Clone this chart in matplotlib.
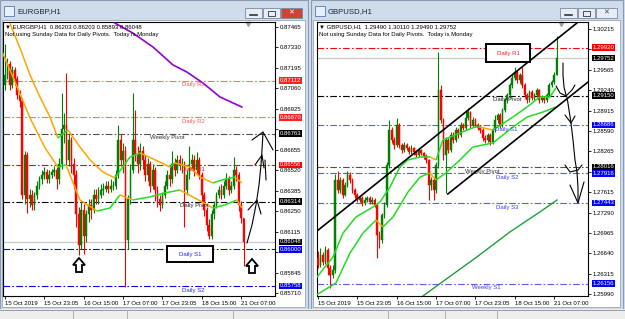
import matplotlib
matplotlib.use('Agg')
import matplotlib.pyplot as plt
from matplotlib.patches import Rectangle, Polygon
from matplotlib.collections import LineCollection
import numpy as np

plt.rcParams['font.family'] = ['Liberation Sans', 'DejaVu Sans']

# ---------------- EURGBP,H1 ----------------
eg_abertura0 = 0.8708
eg_fecho = [0.8715,0.8722,0.8708,0.8718,0.8712,0.8702,0.8698,0.8636,0.8662,0.8633,
	0.8636,0.8629,0.8636,0.8642,0.8646,0.8649,0.8651,0.8646,0.8649,0.8651,
	0.8652,0.8646,0.8656,0.8679,0.8682,0.8659,0.8672,0.8656,0.8649,0.8623,
	0.8603,0.8626,0.8609,0.8623,0.8629,0.8626,0.8636,0.8633,0.8636,0.8639,
	0.8640,0.8642,0.8640,0.8642,0.8642,0.8649,0.8672,0.8659,0.8665,0.8606,
	0.8633,0.8652,0.8672,0.8662,0.8656,0.8665,0.8659,0.8649,0.8656,0.8642,
	0.8652,0.8639,0.8633,0.8629,0.8636,0.8642,0.8649,0.8646,0.8656,0.8652,
	0.8659,0.8656,0.8656,0.8639,0.8649,0.8656,0.8659,0.8652,0.8659,0.8649,
	0.8636,0.8626,0.8616,0.8609,0.8623,0.8629,0.8636,0.8639,0.8636,0.8642,
	0.8646,0.8639,0.8642,0.8652,0.8649,0.8629,0.86203,0.86048]
eg_max = [0.8735,0.8726,0.8724,0.8721,0.8720,0.8714,0.8705,0.8700,0.8665,0.8664,
	0.8640,0.8639,0.8638,0.8645,0.8648,0.8652,0.8654,0.8653,0.8652,0.8653,
	0.8655,0.8654,0.8660,0.8703,0.8690,0.8716,0.8676,0.8674,0.8660,0.8652,
	0.8628,0.8632,0.8630,0.8626,0.8633,0.8633,0.8640,0.8640,0.8641,0.8643,
	0.8644,0.8645,0.8645,0.8646,0.8645,0.8652,0.8682,0.8676,0.8670,0.8668,
	0.8636,0.8656,0.8703,0.8692,0.8668,0.8670,0.8668,0.8662,0.8660,0.8658,
	0.8656,0.8654,0.8642,0.8636,0.8638,0.8645,0.8652,0.8654,0.8665,0.8660,
	0.8662,0.8662,0.8660,0.8658,0.8652,0.8668,0.8663,0.8662,0.8664,0.8661,
	0.8651,0.8638,0.8628,0.8620,0.8626,0.8632,0.8638,0.8642,0.8643,0.8645,
	0.8650,0.8648,0.8645,0.8661,0.8655,0.8651,0.8632,0.86203]
eg_min = [0.8705,0.8712,0.8705,0.8706,0.8708,0.8699,0.8694,0.8633,0.8630,0.8624,
	0.8628,0.8626,0.8626,0.8633,0.8640,0.8643,0.8646,0.8644,0.8644,0.8647,
	0.8648,0.8640,0.8643,0.8653,0.8670,0.8655,0.8655,0.8650,0.8640,0.8615,
	0.8596,0.8600,0.8597,0.8605,0.8618,0.8620,0.8624,0.8630,0.8630,0.8634,
	0.8636,0.8638,0.8637,0.8638,0.8639,0.8640,0.8647,0.8655,0.8650,0.8575,
	0.8600,0.8630,0.8650,0.8658,0.8650,0.8652,0.8653,0.8645,0.8645,0.8638,
	0.8640,0.8632,0.8628,0.8625,0.8627,0.8634,0.8640,0.8642,0.8644,0.8648,
	0.8650,0.8652,0.8650,0.8615,0.8636,0.8646,0.8652,0.8648,0.8650,0.8646,
	0.8632,0.8622,0.8612,0.8607,0.8607,0.8620,0.8627,0.8634,0.8633,0.8634,
	0.8640,0.8636,0.8637,0.8640,0.8645,0.8625,0.8617,0.85893]

# medias moveis (barra, preco)
eg_mm1_idx = [2.0,6.1,10.2,14.2,18.3,21.5,25.6,30.5,34.6,39.8,44.7,50.8,54.9,63.0,67.1,69.1,75.2,79.3,84.6,88.2,93.5,96.3]
eg_mm1_val = [0.87491,0.87327,0.87149,0.87004,0.86872,0.86734,0.86786,0.86674,0.86589,0.86509,0.86470,
	0.86608,0.86635,0.86575,0.86542,0.86569,0.86542,0.86476,0.86437,0.86457,0.86476,0.86437]
eg_mm2_idx = [-2.0,4.1,10.2,16.3,21.5,24.8,30.5,37.4,42.7,46.7,52.0,58.9,65.0,71.1,76.4,84.6,89.4,94.3,96.3]
eg_mm2_val = [0.87333,0.87103,0.86865,0.86668,0.86542,0.86556,0.86325,0.86252,0.86272,0.86358,
	0.86325,0.86345,0.86371,0.86391,0.86345,0.86272,0.86292,0.86325,0.86272]
eg_roxa_idx = [44.7,52.0,60.2,68.3,74.0,80.5,87.4,96.3]
eg_roxa_val = [0.87491,0.87425,0.87333,0.87215,0.87168,0.87096,0.87004,0.86938]

eg_nivel_nome = ['Daily R3','Daily R2','Weekly Pivot','Daily R1','Daily Pivot','Daily S1','Daily S2']
eg_nivel_valor = [0.87112,0.86870,0.86763,0.86556,0.86314,0.86000,0.85758]
eg_atual = 0.86048
eg_ticks = [0.87465,0.87330,0.87195,0.87060,0.86925,0.86790,0.86655,0.86520,0.86385,
	0.86250,0.86115,0.85980,0.85845,0.85710]
eg_cabecalho = '\u25bc EURGBP,H1  0.86203 0.86203 0.85893 0.86048'

# ---------------- GBPUSD,H1 ----------------
gu_abertura0 = 1.2657
gu_fecho = [1.26453,1.26613,1.26501,1.26692,1.26405,1.26294,1.26374,1.27808,1.27649,1.27808,
	1.27569,1.27728,1.27888,1.27808,1.27649,1.27569,1.27489,1.27521,1.27441,1.27489,
	1.27521,1.27457,1.27489,1.27410,1.26931,1.26852,1.27250,1.27410,1.28047,1.28605,
	1.28446,1.28366,1.28685,1.28366,1.28286,1.28366,1.28318,1.28254,1.28318,1.28254,
	1.28207,1.28286,1.28238,1.28191,1.28127,1.27728,1.27808,1.27649,1.28047,1.29243,
	1.28765,1.28207,1.28446,1.28286,1.28525,1.28446,1.28605,1.28525,1.28685,1.28637,
	1.28796,1.28892,1.28685,1.28765,1.28685,1.28637,1.28605,1.28478,1.28446,1.28525,
	1.28414,1.28605,1.28765,1.28844,1.28685,1.28924,1.29083,1.29163,1.29322,1.29434,
	1.29530,1.29402,1.29482,1.29322,1.29163,1.29083,1.29211,1.29115,1.29163,1.29243,
	1.29083,1.29115,1.29083,1.29163,1.29322,1.29370,1.29490,1.29752]
gu_max = [1.2667,1.2672,1.2666,1.2675,1.2672,1.2645,1.2645,1.2790,1.2795,1.2786,
	1.2784,1.2778,1.2795,1.2793,1.2784,1.2768,1.2760,1.2756,1.2755,1.2753,
	1.2756,1.2755,1.2753,1.2752,1.2744,1.2700,1.2728,1.2745,1.2810,1.2877,
	1.2866,1.2850,1.2880,1.2872,1.2840,1.2841,1.2840,1.2835,1.2836,1.2834,
	1.2829,1.2832,1.2831,1.2826,1.2822,1.2815,1.2786,1.2784,1.2810,1.2985,
	1.2932,1.2880,1.2850,1.2848,1.2857,1.2858,1.2865,1.2864,1.2873,1.2872,
	1.2892,1.2896,1.2891,1.2881,1.2880,1.2872,1.2868,1.2864,1.2852,1.2856,
	1.2855,1.2864,1.2884,1.2888,1.2887,1.2896,1.2912,1.2920,1.2936,1.2950,
	1.2961,1.2956,1.2952,1.2961,1.2935,1.2919,1.2924,1.2924,1.2920,1.2928,
	1.2926,1.2916,1.2915,1.2920,1.2936,1.2941,1.2953,1.30110]
gu_min = [1.2640,1.2642,1.2645,1.2647,1.2630,1.2609,1.2625,1.2633,1.2760,1.2760,
	1.2752,1.2755,1.2770,1.2776,1.2760,1.2752,1.2745,1.2746,1.2740,1.2741,
	1.2746,1.2742,1.2743,1.2737,1.2657,1.2672,1.2680,1.2720,1.2738,1.2800,
	1.2840,1.2830,1.2833,1.2832,1.2824,1.2826,1.2828,1.2822,1.2822,1.2821,
	1.2817,1.2818,1.2820,1.2815,1.2808,1.2749,1.2765,1.2749,1.2760,1.2800,
	1.2872,1.2813,1.2760,1.2824,1.2826,1.2840,1.2842,1.2848,1.2850,1.2860,
	1.2861,1.2876,1.2864,1.2866,1.2865,1.2860,1.2856,1.2843,1.2840,1.2842,
	1.2836,1.2838,1.2858,1.2872,1.2864,1.2866,1.2889,1.2904,1.2912,1.2928,
	1.2940,1.2935,1.2936,1.2928,1.2912,1.2903,1.2905,1.2908,1.2909,1.2913,
	1.2903,1.2905,1.2904,1.2905,1.2913,1.2929,1.2934,1.29490]

gu_mm1_idx = [-0.4,6.1,10.2,15.4,22.4,25.2,29.3,33.3,36.6,41.5,45.5,48.0,50.8,57.7,63.8,65.9,71.1,79.3,85.0,90.2,94.3,96.7]
gu_mm1_val = [1.26262,1.26581,1.26963,1.27218,1.27378,1.27457,1.27697,1.28015,1.28127,1.28175,1.28175,
	1.28127,1.28446,1.28557,1.28653,1.28653,1.28605,1.28812,1.28972,1.29131,1.29131,1.29275]
gu_mm2_idx = [-2.0,7.3,13.0,18.3,23.6,26.4,30.5,36.6,41.5,45.5,48.0,52.0,57.7,63.0,71.1,79.3,85.0,91.5,96.7]
gu_mm2_val = [1.25943,1.26166,1.26644,1.26963,1.27170,1.27059,1.27218,1.27617,1.27856,1.27920,
	1.27808,1.27920,1.28127,1.28334,1.28398,1.28653,1.28812,1.28892,1.28972]
gu_lenta_idx = [42.7,48.8,64.6,78.0,90.2,97.2]
gu_lenta_val = [1.25959,1.26134,1.26581,1.26979,1.27298,1.27489]
gu_canal_sup_idx = [-0.4,105.3]
gu_canal_sup_val = [1.26995,1.30311]
gu_canal_inf_idx = [52.8,109.8]
gu_canal_inf_val = [1.27585,1.29370]

gu_nivel_nome = ['Daily R2','Daily R1','Daily Pivot','Daily S1','Weekly Pivot','Daily S2','Daily S3','Weekly S1']
gu_nivel_valor = [1.30390,1.29920,1.29150,1.28686,1.28016,1.27916,1.27443,1.26156]
gu_atual = 1.29752
gu_ticks = [1.30215,1.29890,1.29565,1.29240,1.28915,1.28590,1.28265,1.27940,1.27615,
	1.27290,1.26965,1.26640,1.26315,1.25990]
gu_cabecalho = '\u25bc GBPUSD,H1  1.29490 1.30110 1.29490 1.29752'

datas = ['15 Oct 2019','15 Oct 23:05','16 Oct 15:00','17 Oct 07:00','17 Oct 23:05','18 Oct 15:00','21 Oct 07:00']
datas_idx = [0,16,32,48,64,80,96]

W, H = 625, 319
FS = 4.3
VERDE = '#008000'
VERMELHO = '#ff0000'


def caixa(x0, y0, x1, y1):
	return [x0/W, 1-y1/H, (x1-x0)/W, (y1-y0)/H]


def estilo_nivel(nome, claro=False):
	# cor da linha, cor do texto, cor da etiqueta no eixo
	if 'R' in nome.split()[-1]:
		if nome in ('Daily R3','Daily R2') and claro:
			return '#ff7070', '#ff5555', '#ff2020'
		return '#ff0000', '#ff2020', '#ff0000'
	if 'Pivot' in nome:
		if 'Weekly' in nome:
			return '#505050', '#303030', '#000000'
		return '#000000', '#202020', '#000000'
	return '#0000ff', '#2020ff', '#0000ff'


def desenha_janela(bg, x0, x1, titulo, ativa):
	bg.add_patch(Rectangle((x0, 0), x1-x0, 309, fc='#cfdcec', ec='#8a9ab2', lw=0.8))
	bg.add_patch(Rectangle((x0+4, 6), 10, 10, fc='#e8f0fa', ec='#5577aa', lw=0.6))
	bg.text(x0+17, 12, titulo, fontsize=5.6, color='#1b2636', va='center', ha='left')
	bg.add_patch(Rectangle((x1-63, 8), 17, 10, fc='#e6edf6', ec='#7a8aa2', lw=0.6))
	bg.plot([x1-58, x1-51], [15, 15], color='#333333', lw=1.2)
	bg.add_patch(Rectangle((x1-45, 8), 17, 10, fc='#e6edf6', ec='#7a8aa2', lw=0.6))
	bg.add_patch(Rectangle((x1-40, 11), 7, 5, fc='none', ec='#333333', lw=0.6))
	bg.add_patch(Rectangle((x1-27, 8), 21, 10, fc='#cc4433' if ativa else '#e6edf6', ec='#7a8aa2', lw=0.6))
	bg.text(x1-16.5, 13, '\u2715', fontsize=5, color='white' if ativa else '#444444', ha='center', va='center',
		family=['DejaVu Sans'])
	bg.add_patch(Rectangle((x0+2, 20), x1-x0-5, 287, fc='white', ec='#9aa6b6', lw=0.6))


def linha_mm(ax, idx, val, lw=1.1):
	pts = np.column_stack([idx, val])
	segs = [pts[k:k+2] for k in range(len(pts)-1)]
	cores = ['#22dd22' if val[k+1] >= val[k] else '#ffa500' for k in range(len(val)-1)]
	ax.add_collection(LineCollection(segs, colors=cores, linewidths=lw, zorder=4))


def desenha_grafico(ax, abertura0, fecho, maxs, mins, ylim, ticks, niveis_nome, niveis_valor,
		atual, cabecalho, x_rotulo, caixas, claro):
	fecho = np.array(fecho)
	abert = np.r_[abertura0, fecho[:-1]]
	idx = np.arange(len(fecho))
	cores = np.where(fecho >= abert, VERDE, VERMELHO)
	ax.vlines(idx, mins, maxs, colors=cores, lw=0.8, zorder=3)
	ax.bar(idx, np.abs(fecho-abert), bottom=np.minimum(fecho, abert), width=0.7,
		color=cores, edgecolor=cores, lw=0.3, zorder=3)

	ax.set_xlim(-0.8, 109.8)
	ax.set_ylim(*ylim)
	ax.yaxis.tick_right()

	# etiquetas coloridas escondem os ticks que ficam por baixo delas
	marcados = [atual] + [v for v in niveis_valor if ylim[0] < v < ylim[1]]
	limite = 5.0 * (ylim[1] - ylim[0]) / 274
	rot = []
	for t in ticks:
		perto = min(abs(t - m) for m in marcados) < limite
		rot.append('' if perto else '%.5f' % t)
	ax.set_yticks(ticks)
	ax.set_yticklabels(rot)
	ax.set_xticks(datas_idx)
	ax.set_xticklabels(datas)
	for t in ax.get_xticklabels():
		t.set_horizontalalignment('left')
	ax.tick_params(axis='both', length=2, width=0.6, labelsize=FS, pad=1.5, colors='black')
	for s in ax.spines.values():
		s.set_linewidth(0.8)
		s.set_color('black')

	# linha do preco atual
	ax.axhline(atual, color='#c8c8c8', lw=0.9, zorder=2)
	ax.annotate('%.5f' % atual, xy=(1, atual), xycoords=ax.get_yaxis_transform(), xytext=(3.4, 0),
		textcoords='offset points', ha='left', va='center', fontsize=FS, color='white',
		bbox=dict(boxstyle='square,pad=0.15', fc='black', ec='none'), annotation_clip=False, zorder=6)

	for nome, v in zip(niveis_nome, niveis_valor):
		cl, ct, ce = estilo_nivel(nome, claro)
		if 'S' in nome.split()[-1] and not claro:
			cl, ct = '#5a5aff', '#3a3aff'
		ax.axhline(v, color=cl, lw=0.8, ls=(0, (6, 2, 1.5, 2)), zorder=2)
		if nome not in caixas:
			ax.annotate(nome, xy=(x_rotulo.get(nome, 77), v), xytext=(0, -1.2), textcoords='offset points',
				ha='center', va='top', fontsize=FS, color=ct, zorder=5, annotation_clip=True, clip_on=True)
		if ylim[0] < v < ylim[1]:
			ax.annotate('%.5f' % v, xy=(1, v), xycoords=ax.get_yaxis_transform(), xytext=(3.4, 0),
				textcoords='offset points', ha='left', va='center', fontsize=FS, color='white',
				bbox=dict(boxstyle='square,pad=0.15', fc=ce, ec='none'), annotation_clip=False, zorder=6)

	ax.text(0.007, 0.982, cabecalho, transform=ax.transAxes, fontsize=FS, va='center', ha='left', zorder=6)
	ax.text(0.007, 0.953, 'Not using Sunday Data for Daily Pivots.  Today is Monday', transform=ax.transAxes,
		fontsize=FS, va='center', ha='left', zorder=6)
	ax.plot([0.9], [0.993], marker='v', ms=3, color='#a0a0a0', transform=ax.transAxes, clip_on=False)


def seta_cima(ov, cx, topo):
	pts = [(cx, topo), (cx+6, topo+7), (cx+3, topo+7), (cx+3, topo+14), (cx-3, topo+14),
		(cx-3, topo+7), (cx-6, topo+7)]
	ov.add_patch(Polygon(pts, closed=True, fc='white', ec='black', lw=1.3, joinstyle='miter'))


def rotulo_caixa(ov, x0, y0, x1, y1, texto, cor):
	ov.add_patch(Rectangle((x0, y0), x1-x0, y1-y0, fc='white', ec='black', lw=1.4))
	ov.text((x0+x1)/2, (y0+y1)/2+0.5, texto, fontsize=FS, color=cor, ha='center', va='center')


def main():
	fig = plt.figure(figsize=(W/100, H/100), dpi=100)
	fig.patch.set_facecolor('#d3deec')
	bg = fig.add_axes([0, 0, 1, 1])
	bg.set_xlim(0, W)
	bg.set_ylim(H, 0)
	bg.axis('off')
	desenha_janela(bg, 0, 308, 'EURGBP,H1', True)
	desenha_janela(bg, 311, 623, 'GBPUSD,H1', False)
	# barra inferior de abas
	bg.add_patch(Rectangle((0, 309), W, 10, fc='#eeeeee', ec='none'))
	bg.plot([0, W], [309.5, 309.5], color='#9a9a9a', lw=0.7)
	for xs in [73, 127, 233, 388, 445, 497]:
		bg.plot([xs, xs], [310, 319], color='#b0b0b0', lw=0.7)

	ax1 = fig.add_axes(caixa(3, 22, 275, 296))
	desenha_grafico(ax1, eg_abertura0, eg_fecho, eg_max, eg_min, (0.85692, 0.87498), eg_ticks,
		eg_nivel_nome, eg_nivel_valor, eg_atual, eg_cabecalho,
		{'Weekly Pivot': 66, 'Daily R3': 76.5, 'Daily R2': 76.5, 'Daily R1': 76.5, 'Daily S2': 76.5},
		['Daily S1'], True)
	linha_mm(ax1, eg_mm1_idx, eg_mm1_val)
	linha_mm(ax1, eg_mm2_idx, eg_mm2_val)
	ax1.plot(eg_roxa_idx, eg_roxa_val, color='#9400d3', lw=1.2, zorder=4)

	ax2 = fig.add_axes(caixa(317, 22, 588, 296))
	desenha_grafico(ax2, gu_abertura0, gu_fecho, gu_max, gu_min, (1.25959, 1.30327), gu_ticks,
		gu_nivel_nome, gu_nivel_valor, gu_atual, gu_cabecalho,
		{'Weekly Pivot': 67, 'Weekly S1': 68.5, 'Daily R2': 77, 'Daily S1': 76.5},
		['Daily R1'], False)
	ax2.set_xlim(-0.4, 109.8)
	linha_mm(ax2, gu_mm1_idx, gu_mm1_val)
	linha_mm(ax2, gu_mm2_idx, gu_mm2_val)
	ax2.plot(gu_lenta_idx, gu_lenta_val, color='#1f9e3a', lw=1.0, zorder=4)
	ax2.plot(gu_canal_sup_idx, gu_canal_sup_val, color='black', lw=1.2, zorder=5)
	ax2.plot(gu_canal_inf_idx, gu_canal_inf_val, color='black', lw=1.2, zorder=5)

	# anotacoes feitas a mao (coordenadas em pixels)
	ov = fig.add_axes([0, 0, 1, 1], zorder=5)
	ov.set_xlim(0, W)
	ov.set_ylim(H, 0)
	ov.axis('off')
	ov.patch.set_alpha(0)
	rotulo_caixa(ov, 167, 246, 213, 262, 'Daily S1', '#2020ff')
	rotulo_caixa(ov, 486, 44, 530, 62, 'Daily R1', '#ff2020')
	seta_cima(ov, 79, 258)
	seta_cima(ov, 252, 259)
	tracos = [
		[(247, 243), (252, 225), (256, 205), (259, 185), (261, 165), (262, 150), (263, 133)],
		[(252, 140), (263, 132), (273, 150)],
		[(248, 210), (257, 200), (261, 214)],
		[(255, 165), (262, 155), (264, 168)],
		[(265, 160), (266, 180)],
		[(563, 63), (563, 75), (564, 87), (566, 95)],
		[(556, 86), (560, 93), (566, 96), (572, 90), (575, 85)],
		[(567, 97), (569, 110), (571, 123)],
		[(565, 115), (571, 123), (575, 116)],
		[(571, 123), (573, 140), (575, 160), (577, 172)],
		[(565, 165), (570, 172), (578, 170), (582, 165)],
		[(577, 172), (578, 188), (578, 202)],
		[(570, 185), (578, 203), (584, 182)],
	]
	for t in tracos:
		xs, ys = zip(*t)
		ov.plot(xs, ys, color='black', lw=0.8, solid_capstyle='round')

	fig.savefig('out.png', dpi=100)


if __name__ == '__main__':
	main()
